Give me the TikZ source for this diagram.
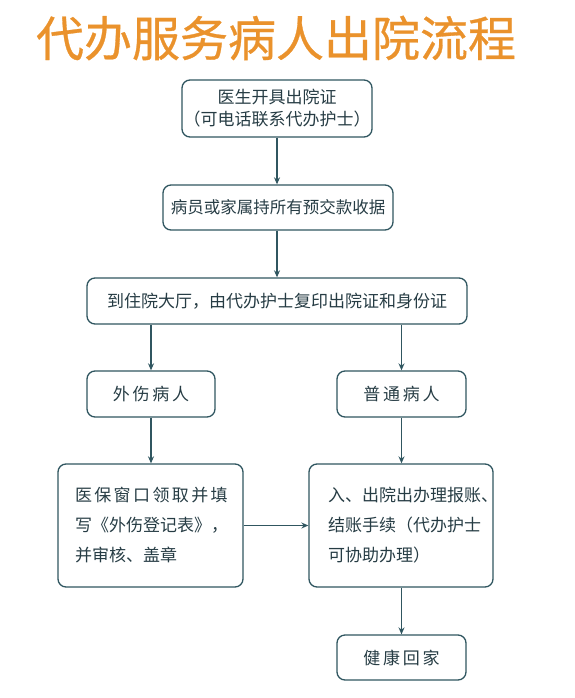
\documentclass[tikz,border=0pt]{standalone}
\usepackage{fontspec}
\setmainfont{Noto Sans CJK SC}
\usetikzlibrary{positioning,arrows.meta}
\definecolor{titleorange}{RGB}{234,146,44}
\definecolor{darkteal}{RGB}{48,86,96}
\definecolor{textslate}{RGB}{38,60,68}

\begin{document}
\begin{tikzpicture}[x=1pt,y=-1pt,
          box/.style={draw=darkteal,line width=1.3pt,rounded corners=8pt,
            text=textslate,font=\fontsize{17}{22}\selectfont,
            align=center,inner sep=0pt},
          wide/.style={font=\fontsize{17}{22}\selectfont\addfontfeature{LetterSpace=16}},
          flow/.style={-{Stealth[length=7pt,width=6pt]},darkteal,line width=1.3pt}]
        \useasboundingbox (0,0) rectangle (574,698);

        \node[font=\fontsize{48}{52}\selectfont\addfontfeature{FakeBold=0.6},
          text=titleorange] (title) at (276,38) {代办服务病人出院流程};

        \node[box,minimum width=190,minimum height=57] (doctor) at (277,108.5)
          {医生开具出院证\\（可电话联系代办护士）};
        \node[box,minimum width=230,minimum height=45,
          font=\fontsize{16.5}{22}\selectfont] (receipt) at (278,207.5)
          {病员或家属持所有预交款收据};
        \node[box,minimum width=380,minimum height=46] (hall) at (277,301)
          {到住院大厅，由代办护士复印出院证和身份证};

        \node[box,wide,minimum width=128,minimum height=46] (injury) at (151,394)
          {外伤病人};
        \node[box,wide,minimum width=129,minimum height=46] (normal) at (401.5,394)
          {普通病人};

        % left-aligned text blocks, lines may run past text width
        \node[box,minimum width=185,minimum height=123,align=left,text width=151,
          font=\fontsize{17}{30}\selectfont] (insure) at (150.5,525.5)
          {{\addfontfeature{LetterSpace=14}医保窗口领取并填}\\写《外伤登记表》，\\并审核、盖章};
        \node[box,minimum width=184,minimum height=123,align=left,text width=146,
          font=\fontsize{17}{30}\selectfont] (settle) at (401,525.5)
          {入、出院出办理报账、\\结账手续（代办护士\\可协助办理）};

        \node[box,wide,minimum width=129,minimum height=45] (home) at (401.5,657.5)
          {健康回家};

        \draw[flow] (doctor.south) -- (receipt.north -| doctor.south);
        \draw[flow] (receipt.south -| doctor.south) -- (hall.north -| doctor.south);
        \draw[flow] (hall.south -| injury.north) -- (injury.north);
        \draw[flow] (hall.south -| normal.north) -- (normal.north);
        \draw[flow] (injury.south) -- (insure.north -| injury.south);
        \draw[flow] (normal.south) -- (normal.south |- settle.north);
        \draw[flow] (insure.east) -- (settle.west);
        \draw[flow] (settle.south -| home.north) -- (home.north);

      \end{tikzpicture}
\end{document}
